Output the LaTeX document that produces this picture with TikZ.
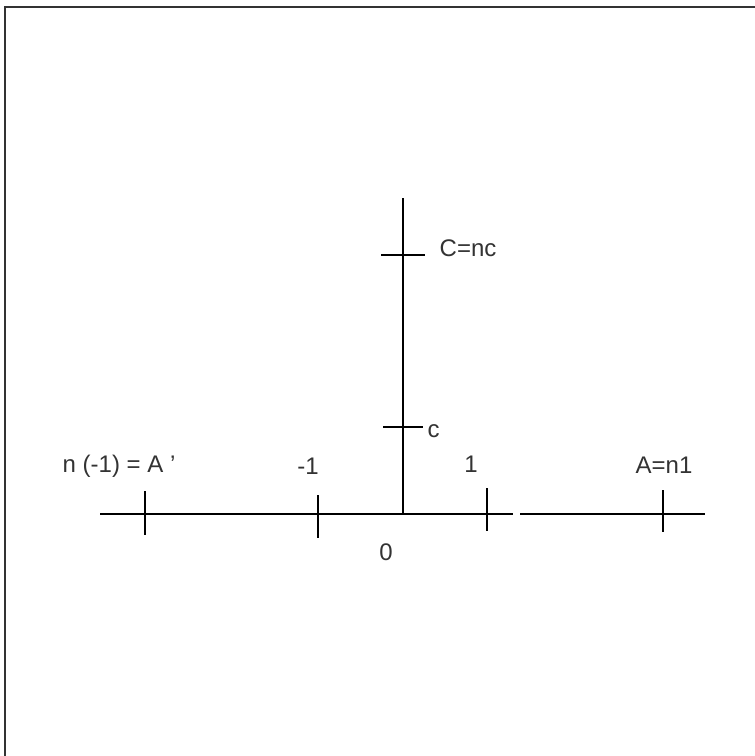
\documentclass[tikz,border=0pt]{standalone}
\usepackage{fontspec}
\setmainfont{Liberation Sans}
\usepackage{tikz}
\usetikzlibrary{positioning}

\tikzset{lbl/.style={inner sep=0pt, text=black!80}}

\begin{document}
\begin{tikzpicture}[x=0.5pt,y=-0.5pt, line width=0.7pt, font=\fontsize{12}{14}\selectfont]
\useasboundingbox (0,0) rectangle (755,756);
% frame (top and left only)
\draw[line width=1.4pt, black!80] (755,7) -- (5,7) -- (5,756);
% axes
\coordinate (O) at (403,514);
\coordinate (left) at (100,514);
\coordinate (right) at (705,514);
\coordinate (top) at (403,198);
\coordinate (gapL) at (513,514);
\coordinate (gapR) at (520,514);
\draw (left) -- (O) -- (top);
\draw (O) -- (gapL);
\draw (gapR) -- (right);
% ticks on the horizontal axis
\foreach \x/\a/\b in {145/491/535, 318/495/538, 487/488/531, 663/490/532}{
  \draw (\x,\a) -- (\x,\b);
}
% ticks on the vertical axis
\coordinate (tnc) at (403,255);
\coordinate (tc) at (403,427);
\draw ([xshift=-11pt]tnc) -- ([xshift=11pt]tnc);
\draw ([xshift=-10pt]tc) -- ([xshift=10pt]tc);
% labels
\node[lbl, anchor=west] (lblAp) at (62,466) {n (-1) = A '};
\node[lbl] (lblm1) at (308,466) {-1};
\node[lbl] (lbl1) at (471,464) {1};
\node[lbl] (lblA) at (664,465) {A=n1};
\node[lbl] (lbl0) at (386,552) {0};
\node[lbl, anchor=west] (lblc) at (427,431) {c};
\node[lbl, anchor=west] (lblC) at (439,248) {C=nc};
\end{tikzpicture}
\end{document}
